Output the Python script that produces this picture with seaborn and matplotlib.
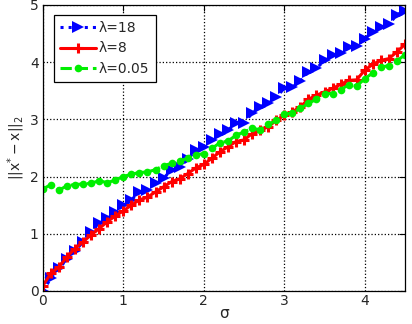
import numpy as np
import pandas as pd
import seaborn as sns
import matplotlib
matplotlib.use("Agg")
import matplotlib.pyplot as plt

# sigma grid (0 to 4.5 step 0.1) and read-off curves
sigma = [round(0.1 * i, 1) for i in range(46)]

err_lam18 = [0.00, 0.22, 0.40, 0.55, 0.70, 0.86, 1.03, 1.18, 1.27, 1.38,
             1.50, 1.59, 1.73, 1.77, 1.89, 1.97, 2.12, 2.17, 2.30, 2.46,
             2.52, 2.64, 2.74, 2.81, 2.93, 2.93, 3.11, 3.22, 3.28, 3.39,
             3.54, 3.56, 3.67, 3.83, 3.89, 4.03, 4.12, 4.15, 4.26, 4.28,
             4.41, 4.53, 4.61, 4.66, 4.83, 4.89]

err_lam8 = [0.09, 0.31, 0.42, 0.60, 0.74, 0.86, 0.98, 1.09, 1.21, 1.31,
            1.40, 1.50, 1.59, 1.64, 1.73, 1.82, 1.91, 1.96, 2.05, 2.15,
            2.21, 2.32, 2.43, 2.52, 2.61, 2.64, 2.75, 2.81, 2.87, 2.98,
            3.07, 3.13, 3.22, 3.35, 3.42, 3.48, 3.54, 3.61, 3.68, 3.69,
            3.86, 3.96, 4.03, 4.06, 4.18, 4.31]

err_lam005 = [1.78, 1.86, 1.76, 1.84, 1.86, 1.87, 1.88, 1.93, 1.89, 1.94,
              2.00, 2.04, 2.07, 2.08, 2.12, 2.19, 2.23, 2.27, 2.32, 2.38,
              2.40, 2.49, 2.59, 2.62, 2.72, 2.78, 2.84, 2.82, 2.91, 2.98,
              3.09, 3.11, 3.19, 3.28, 3.35, 3.45, 3.45, 3.52, 3.60, 3.58,
              3.71, 3.81, 3.91, 3.94, 4.02, 4.13]

labels = ["λ=18", "λ=8", "λ=0.05"]

sns.set_style("white")
plt.rcParams['font.family'] = ['DejaVu Sans']
plt.rcParams['mathtext.fontset'] = 'dejavusans'

fig = plt.figure(figsize=(4.12, 3.24), dpi=100)
ax = fig.add_axes([0.104, 0.102, 0.879, 0.883])

sns.lineplot(x=sigma, y=err_lam18, ax=ax, color="#0000ff", linestyle=":",
             linewidth=2.2, marker=">", markersize=8, markeredgewidth=0,
             markeredgecolor="#0000ff", label=labels[0])
sns.lineplot(x=sigma, y=err_lam8, ax=ax, color="#ff0000", linestyle="-",
             linewidth=2.2, marker="+", markersize=7, markeredgewidth=2.2,
             markeredgecolor="#ff0000", label=labels[1])
sns.lineplot(x=sigma, y=err_lam005, ax=ax, color="#00ee00", linestyle="--",
             linewidth=2.2, marker="o", markersize=5.5, markeredgewidth=0,
             markeredgecolor="#00ee00", label=labels[2])

ax.set_xlim(0, 4.5)
ax.set_ylim(0, 5)
ax.set_xticks([0, 1, 2, 3, 4])
ax.set_yticks([0, 1, 2, 3, 4, 5])
ax.grid(True, color="black", linestyle=":", linewidth=0.9)
ax.tick_params(direction="in", length=4, labelsize=10, color="black",
               top=True, right=True, pad=3)
ax.tick_params(axis="x", pad=2)
for sp in ax.spines.values():
    sp.set_color("black")
    sp.set_linewidth(0.9)

ax.set_xlabel("σ", fontsize=11, labelpad=-1)
ax.set_ylabel(r"$\mathregular{||x^{*}-x||_2}$", fontsize=10, labelpad=2)

leg = ax.legend(loc="upper left", bbox_to_anchor=(0.03, 0.965),
                fancybox=False, edgecolor="black", framealpha=1,
                fontsize=10, handlelength=2.6, borderaxespad=0,
                labelspacing=0.45, handletextpad=0.2, borderpad=0.45)
leg.get_frame().set_linewidth(0.9)

fig.savefig("out.png", dpi=100)
